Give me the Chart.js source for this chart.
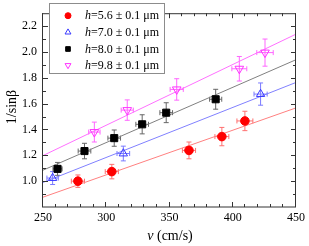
<!DOCTYPE html>
<html>
<head>
<meta charset="utf-8">
<script src="https://cdn.jsdelivr.net/npm/chart.js@4.4.0/dist/chart.umd.min.js"></script>
<style>
  body { margin: 0; background: #fff; }
  canvas { display: block; }
</style>
</head>
<body>
<canvas id="mycanvas" width="309" height="246"></canvas>
<script>
// measured points (v in cm/s, 1/sin beta) with error bars
var vRed = [277.6, 304.4, 365.4, 391.4, 409.6];
var yRed = [1.00, 1.074, 1.238, 1.345, 1.466];
var vErrRed = [5.2, 5.2, 5.2, 5.5, 6.3];
var yErrRed = [0.048, 0.056, 0.065, 0.071, 0.075];

var vBlue = [257.6, 313.5, 422.0];
var yBlue = [1.024, 1.214, 1.674];
var vErrBlue = [4.5, 5.0, 5.2];
var yErrBlue = [0.05, 0.057, 0.086];

var vBlack = [261.5, 282.8, 306.3, 328.4, 347.4, 386.5];
var yBlack = [1.095, 1.233, 1.333, 1.44, 1.53, 1.634];
var vErrBlack = [3.6, 5.0, 5.0, 5.0, 5.0, 4.8];
var yErrBlack = [0.05, 0.06, 0.063, 0.074, 0.077, 0.077];

var vPink = [290.6, 316.6, 355.7, 405.2, 425.5];
var yPink = [1.38, 1.55, 1.71, 1.87, 1.995];
var vErrPink = [4.5, 4.8, 5.2, 5.9, 6.5];
var yErrPink = [0.077, 0.079, 0.083, 0.095, 0.105];

// linear fits (value at v = 250 and v = 450)
var fitX = [250, 450];
var fitRed = [0.876, 1.567];
var fitBlue = [0.99, 1.764];
var fitBlack = [1.085, 1.94];
var fitPink = [1.198, 2.138];

var legendLabels = ['=5.6 \u00b1 0.1 \u03bcm', '=7.0 \u00b1 0.1 \u03bcm', '=8.0 \u00b1 0.1 \u03bcm', '=9.8 \u00b1 0.1 \u03bcm'];
var xTicks = [250, 300, 350, 400, 450];
var yTicks = [1.0, 1.2, 1.4, 1.6, 1.8, 2.0, 2.2];

var serif = "'Liberation Serif', 'DejaVu Serif', serif";

function pts(xs, ys) {
	var out = [];
	for (var i in xs) out.push({x: xs[i], y: ys[i]});
	return out;
}

var series = [
	{v: vRed, y: yRed, ve: vErrRed, ye: yErrRed, bar: '#ff7070', color: '#ff0000', fill: '#ff0000', style: 'circle', rot: 0, r: 4.3},
	{v: vBlue, y: yBlue, ve: vErrBlue, ye: yErrBlue, bar: '#7a7aff', color: '#3a3aff', fill: 'rgba(0,0,0,0)', style: 'triangle', rot: 0, r: 4.8},
	{v: vBlack, y: yBlack, ve: vErrBlack, ye: yErrBlack, bar: '#666666', color: '#000000', fill: '#000000', style: 'rect', rot: 0, r: 5},
	{v: vPink, y: yPink, ve: vErrPink, ye: yErrPink, bar: '#ff66ff', color: '#ff33ff', fill: 'rgba(0,0,0,0)', style: 'triangle', rot: 180, r: 5}
];

var datasets = [];
series.forEach(function(s) {
	datasets.push({
		data: pts(s.v, s.y),
		pointStyle: s.style,
		rotation: s.rot,
		pointRadius: s.r,
		borderWidth: 1,
		borderColor: s.color,
		backgroundColor: s.fill,
		order: 0
	});
});
var fits = [[fitRed, '#ff8080'], [fitBlue, '#8080ff'], [fitBlack, '#808080'], [fitPink, '#ff70ff']];
fits.forEach(function(f) {
	datasets.push({
		data: pts(fitX, f[0]),
		showLine: true,
		pointRadius: 0,
		borderWidth: 1,
		borderColor: f[1],
		order: 2
	});
});

var extras = {
	id: 'extras',
	beforeDatasetsDraw: function(chart) {
		var ctx = chart.ctx, xs = chart.scales.x, ys = chart.scales.y;
		ctx.save();
		ctx.lineWidth = 1;
		series.forEach(function(s) {
			ctx.strokeStyle = s.bar;
			for (var i in s.v) {
				var px = xs.getPixelForValue(s.v[i]);
				var py = ys.getPixelForValue(s.y[i]);
				var x0 = xs.getPixelForValue(s.v[i] - s.ve[i]);
				var x1 = xs.getPixelForValue(s.v[i] + s.ve[i]);
				var y0 = ys.getPixelForValue(s.y[i] - s.ye[i]);
				var y1 = ys.getPixelForValue(s.y[i] + s.ye[i]);
				ctx.beginPath();
				ctx.moveTo(px, y0); ctx.lineTo(px, y1);
				ctx.moveTo(px - 2.5, y0); ctx.lineTo(px + 2.5, y0);
				ctx.moveTo(px - 2.5, y1); ctx.lineTo(px + 2.5, y1);
				ctx.moveTo(x0, py); ctx.lineTo(x1, py);
				ctx.moveTo(x0, py - 2.5); ctx.lineTo(x0, py + 2.5);
				ctx.moveTo(x1, py - 2.5); ctx.lineTo(x1, py + 2.5);
				ctx.stroke();
			}
		});
		ctx.restore();
	},
	afterDraw: function(chart) {
		var ctx = chart.ctx, a = chart.chartArea, xs = chart.scales.x, ys = chart.scales.y;
		ctx.save();
		// frame
		ctx.strokeStyle = '#333';
		ctx.lineWidth = 1;
		ctx.strokeRect(a.left - 0.5, a.top + 0.5, a.right - a.left, a.bottom - a.top - 0.5);
		// inward ticks
		ctx.beginPath();
		for (var v = 250; v <= 450; v += 10) {
			var px = Math.round(xs.getPixelForValue(v)) - 0.5;
			var len = (v % 50 === 0) ? 5 : 3;
			ctx.moveTo(px, a.bottom); ctx.lineTo(px, a.bottom - len);
			ctx.moveTo(px, a.top); ctx.lineTo(px, a.top + len);
		}
		for (var k = 9; k <= 22; k++) {
			var py = Math.round(ys.getPixelForValue(k / 10)) + 0.5;
			var ln = (k % 2 === 0) ? 5 : 3;
			ctx.moveTo(a.left, py); ctx.lineTo(a.left + ln, py);
			ctx.moveTo(a.right, py); ctx.lineTo(a.right - ln, py);
		}
		ctx.stroke();

		// legend
		var lx = 49.5, ly = 3.5, lw = 115, lh = 70;
		ctx.fillStyle = '#fff';
		ctx.fillRect(lx, ly, lw, lh);
		ctx.strokeStyle = '#8c8c8c';
		ctx.strokeRect(lx, ly, lw, lh);
		var rows = [15.7, 32.3, 49, 65.3];
		var small = [3, 3.4, 3.3, 3.4];
		series.forEach(function(s, i) {
			ctx.lineWidth = 1;
			ctx.strokeStyle = s.color;
			ctx.fillStyle = s.fill;
			Chart.helpers.drawPoint(ctx, {pointStyle: s.style, rotation: s.rot, radius: small[i], borderWidth: 1}, 68, rows[i]);
			ctx.fillStyle = '#000';
			ctx.textBaseline = 'middle';
			ctx.textAlign = 'left';
			ctx.font = 'italic 12px ' + serif;
			ctx.fillText('h', 85, rows[i] + 0.5);
			var w = ctx.measureText('h').width;
			ctx.font = '12px ' + serif;
			ctx.fillText(legendLabels[i], 85 + w, rows[i] + 0.5);
		});

		// axis titles
		ctx.fillStyle = '#000';
		ctx.font = '14px ' + serif;
		ctx.textBaseline = 'middle';
		ctx.textAlign = 'center';
		ctx.save();
		ctx.translate(12, 107);
		ctx.rotate(-Math.PI / 2);
		ctx.fillText('1/sin\u03b2', 0, 0);
		ctx.restore();
		ctx.textAlign = 'left';
		ctx.font = 'italic 14px ' + serif;
		var vw = ctx.measureText('v').width;
		ctx.font = '14px ' + serif;
		var rest = ' (cm/s)';
		var rw = ctx.measureText(rest).width;
		var sx = 170 - (vw + rw) / 2;
		ctx.font = 'italic 14px ' + serif;
		ctx.fillText('v', sx, 236);
		ctx.font = '14px ' + serif;
		ctx.fillText(rest, sx + vw, 236);
		ctx.restore();
	}
};

var ctx = document.getElementById('mycanvas');
var chart = new Chart(ctx, {
	type: 'scatter',
	data: { datasets: datasets },
	options: {
		responsive: false,
		animation: false,
		devicePixelRatio: 1,
		layout: { padding: { top: 1, right: 10, left: 0, bottom: 0 } },
		plugins: { legend: { display: false }, tooltip: { enabled: false } },
		scales: {
			x: {
				type: 'linear',
				min: 250,
				max: 450,
				grid: { display: false, drawTicks: false },
				border: { display: false },
				afterBuildTicks: function(scale) { scale.ticks = xTicks.map(function(v) { return {value: v}; }); },
				afterFit: function(scale) { scale.height = 39; },
				ticks: { color: '#000', padding: 4, maxRotation: 0, font: { family: serif, size: 12 } }
			},
			y: {
				type: 'linear',
				min: 0.8,
				max: 2.3,
				grid: { display: false, drawTicks: false },
				border: { display: false },
				afterBuildTicks: function(scale) { scale.ticks = yTicks.map(function(v) { return {value: v}; }); },
				afterFit: function(scale) { scale.width = 43; },
				ticks: {
					color: '#000', padding: 6, font: { family: serif, size: 12 },
					callback: function(v) { return Number(v).toFixed(1); }
				}
			}
		}
	},
	plugins: [extras]
});
</script>
</body>
</html>
